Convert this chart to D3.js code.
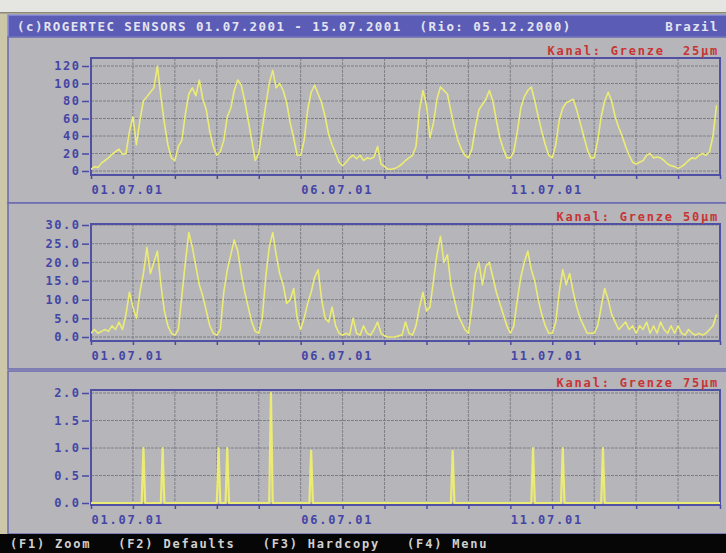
<!DOCTYPE html>
<html>
<head>
<meta charset="utf-8">
<script src="https://cdn.jsdelivr.net/npm/d3@7"></script>
<style>
    body { margin: 0; background: #cdc7aa; overflow: hidden; }
    svg { display: block; }
</style>
</head>
<body>
<div id="chart"></div>
<script>
// ---- data (2-hour samples from 01.07.2001 00:00) ----
const startDate = new Date(2001, 6, 1);
const endDate = new Date(2001, 6, 16);
const stepHours = 2;

const grenze25 = [
    2, 5, 4, 9, 12, 15, 19, 22, 25, 19, 20, 45,
    62, 30, 58, 80, 85, 90, 95, 120, 85, 55, 30, 15,
    12, 28, 35, 65, 88, 95, 86, 104, 82, 70, 45, 28,
    18, 22, 35, 62, 72, 92, 104, 98, 80, 58, 35, 12,
    20, 48, 75, 100, 115, 95, 100, 92, 78, 55, 38, 18,
    18, 35, 70, 90, 98, 88, 78, 62, 42, 30, 20, 10,
    6, 10, 15, 18, 14, 18, 12, 15, 14, 16, 28, 8,
    5, 2, 2, 3, 5, 8, 12, 15, 18, 28, 70, 92,
    75, 38, 55, 82, 96, 92, 88, 68, 50, 35, 25, 18,
    15, 25, 50, 70, 76, 82, 92, 80, 58, 38, 25, 15,
    15, 22, 45, 72, 85, 92, 96, 80, 62, 45, 30, 18,
    15, 30, 58, 72, 78, 80, 82, 70, 55, 40, 25, 15,
    15, 35, 62, 80, 90, 80, 62, 50, 40, 28, 18, 10,
    8, 10, 12, 18, 20, 15, 16, 15, 12, 8, 6, 5,
    3, 5, 8, 12, 15, 14, 18, 20, 18, 22, 40, 75
];

const grenze50 = [
    1, 2, 1, 1.5, 2, 1.5, 3, 2, 4, 2, 6, 12,
    8, 5, 12, 17, 24, 17, 20, 23, 14, 7, 3, 1,
    0.5, 2, 11, 20, 28, 24, 19, 14, 11, 7, 3, 1,
    0.5, 2, 12, 18, 22, 26, 23, 17, 12, 8, 4, 1.5,
    1, 5, 16, 24, 28, 22, 17, 14, 9, 10, 13, 5,
    2, 5, 9, 12, 16, 18, 10, 5, 4, 8, 3, 1,
    0.5, 1, 0.5, 5, 1, 0.5, 3, 1, 0.5, 2, 4, 1,
    0.3, 0, 0, 0, 0.3, 0.5, 4, 1, 0.5, 3, 8, 12,
    7, 8, 15, 22, 27, 20, 22, 14, 10, 6, 4, 2,
    1, 8, 17, 20, 14, 19, 20, 16, 12, 9, 6, 3,
    1, 3, 10, 16, 20, 23, 18, 15, 10, 6, 3, 1,
    1, 4, 12, 18, 14, 17, 12, 8, 5, 3, 1, 1,
    1, 3, 8, 13, 10, 6, 4, 2, 3, 4, 2, 3,
    1, 3, 2, 4, 1, 3, 1, 4, 2, 1, 3, 1,
    3, 1, 0.5, 2, 1, 0.5, 1, 0.5, 1, 2, 3, 6
];

// 75um channel is zero except for short single-hour spikes
const grenze75SpikeHours = [30, 41, 73, 78, 103, 126, 207, 253, 270, 293];
const grenze75SpikeValues = [1.0, 1.0, 1.0, 1.0, 2.0, 0.95, 0.95, 1.0, 1.0, 1.0];

const yTicks25 = [0, 20, 40, 60, 80, 100, 120];
const yTicks50 = [0, 5, 10, 15, 20, 25, 30];
const yTicks75 = [0, 0.5, 1.0, 1.5, 2.0];
const labelDays = [1, 6, 11];

const channelLabels = ["Kanal: Grenze  25µm", "Kanal: Grenze 50µm", "Kanal: Grenze 75µm"];
const titleLeft = "(c)ROGERTEC SENSORS 01.07.2001 - 15.07.2001  (Rio: 05.12.2000)";
const titleRight = "Brazil";
const footerText = "(F1) Zoom   (F2) Defaults   (F3) Hardcopy   (F4) Menu";

// ---- layout ----
const width = 726, height = 553;
const plotLeft = 91, plotRight = 720;
const monoFont = "'DejaVu Sans Mono', 'Liberation Mono', monospace";

const series25 = grenze25.map((v, i) => ({ t: d3.timeHour.offset(startDate, i * stepHours), v }));
const series50 = grenze50.map((v, i) => ({ t: d3.timeHour.offset(startDate, i * stepHours), v }));
const series75 = [{ t: startDate, v: 0 }];
grenze75SpikeHours.forEach((h, i) => {
    series75.push({ t: d3.timeHour.offset(startDate, h - 1), v: 0 });
    series75.push({ t: d3.timeHour.offset(startDate, h), v: grenze75SpikeValues[i] });
    series75.push({ t: d3.timeHour.offset(startDate, h + 1), v: 0 });
});
series75.push({ t: endDate, v: 0 });

const panels = [
    { box: [37, 203], plot: [58, 175], zeroY: 171, maxY: 66, max: 120, ticks: yTicks25, fmt: d3.format("d"), label: channelLabels[0], data: series25, lw: 1.6 },
    { box: [203, 369], plot: [224, 341], zeroY: 337, maxY: 225, max: 30, ticks: yTicks50, fmt: d3.format(".1f"), label: channelLabels[1], data: series50, lw: 1.6 },
    { box: [371, 534], plot: [390, 505], zeroY: 503, maxY: 393, max: 2, ticks: yTicks75, fmt: d3.format(".1f"), label: channelLabels[2], data: series75, lw: 2.2 }
];

const svg = d3.select("#chart").append("svg")
    .attr("width", width)
    .attr("height", height);

// top strip and background
svg.append("rect").attr("width", width).attr("height", height).attr("fill", "#cdc7aa");
svg.append("rect").attr("width", width).attr("height", 12).attr("fill", "#e5e6e2");
svg.append("rect").attr("y", 12).attr("width", width).attr("height", 1.5).attr("fill", "#8a8878");

// title bar
svg.append("rect")
    .attr("x", 8).attr("y", 15).attr("width", 730).attr("height", 22)
    .attr("fill", "#5a5cb6").attr("stroke", "#8a8ed8").attr("stroke-width", 1.5);
svg.append("text")
    .attr("x", 17).attr("y", 31)
    .attr("font-family", monoFont).attr("font-weight", "bold").attr("font-size", "12.5px")
    .attr("letter-spacing", "1.42px").attr("fill", "#e4e4f0")
    .style("white-space", "pre")
    .text(titleLeft);
svg.append("text")
    .attr("x", 719).attr("y", 31).attr("text-anchor", "end")
    .attr("font-family", monoFont).attr("font-weight", "bold").attr("font-size", "12.5px")
    .attr("letter-spacing", "1.42px").attr("fill", "#e4e4f0")
    .text(titleRight);

const x = d3.scaleTime().domain([startDate, endDate]).range([plotLeft, plotRight]);

panels.forEach((p, idx) => {
    const g = svg.append("g");
    const y = d3.scaleLinear().domain([0, p.max]).range([p.zeroY, p.maxY]);

    // panel box
    g.append("rect")
        .attr("x", 8).attr("y", p.box[0]).attr("width", 730).attr("height", p.box[1] - p.box[0])
        .attr("fill", "#b5b5ba").attr("stroke", "#6a6ab4").attr("stroke-width", 1.5);

    // grid
    g.selectAll(".hgrid")
        .data(p.ticks)
        .enter().append("line")
        .attr("x1", plotLeft).attr("x2", plotRight)
        .attr("y1", d => y(d)).attr("y2", d => y(d))
        .attr("stroke", "#7e7e88").attr("stroke-width", 1).attr("stroke-dasharray", "3,1");

    g.selectAll(".vgrid")
        .data(d3.timeDay.range(d3.timeDay.offset(startDate, 1), endDate))
        .enter().append("line")
        .attr("x1", d => x(d)).attr("x2", d => x(d))
        .attr("y1", p.plot[0]).attr("y2", p.plot[1])
        .attr("stroke", "#7e7e88").attr("stroke-width", 1).attr("stroke-dasharray", "3,1");

    // plot frame
    g.append("rect")
        .attr("x", plotLeft).attr("y", p.plot[0])
        .attr("width", plotRight - plotLeft).attr("height", p.plot[1] - p.plot[0])
        .attr("fill", "none").attr("stroke", "#5050a4").attr("stroke-width", 2);

    // y axis
    const yAxis = g.append("g")
        .attr("transform", `translate(${plotLeft - 2},0)`)
        .call(d3.axisLeft(y).tickValues(p.ticks).tickSize(7).tickPadding(3).tickFormat(p.fmt));
    yAxis.select(".domain").remove();
    yAxis.selectAll("line").attr("stroke", "#4a4aa4").attr("stroke-width", 1.5);
    yAxis.selectAll("text")
        .attr("fill", "#4545a6").attr("font-family", monoFont)
        .attr("font-weight", "bold").attr("font-size", "12px").attr("letter-spacing", "1.5px")
        .attr("dx", "1.5px");

    // x axis
    const xAxis = g.append("g")
        .attr("transform", `translate(0,${p.plot[1]})`)
        .call(d3.axisBottom(x)
            .ticks(d3.timeDay.every(1))
            .tickSize(4)
            .tickFormat(d => labelDays.includes(d.getDate()) && d < endDate ? d3.timeFormat("%d.%m.%y")(d) : ""));
    xAxis.select(".domain").remove();
    xAxis.selectAll("line").attr("stroke", "#4a4aa4").attr("stroke-width", 1.5);
    xAxis.selectAll("text")
        .attr("text-anchor", "start")
        .attr("y", 19).attr("dy", 0)
        .attr("fill", "#4545a6").attr("font-family", monoFont)
        .attr("font-weight", "bold").attr("font-size", "12px").attr("letter-spacing", "1.8px");

    // channel label
    g.append("text")
        .attr("x", 719).attr("y", p.plot[0] - 3).attr("text-anchor", "end")
        .attr("font-family", monoFont).attr("font-weight", "bold").attr("font-size", "12px")
        .attr("letter-spacing", "1.8px").attr("fill", "#c83434")
        .style("white-space", "pre")
        .text(p.label);

    // data line
    g.append("clipPath").attr("id", "clip" + idx)
        .append("rect")
        .attr("x", plotLeft).attr("y", p.plot[0])
        .attr("width", plotRight - plotLeft).attr("height", p.plot[1] - p.plot[0]);

    g.append("path")
        .datum(p.data)
        .attr("clip-path", `url(#clip${idx})`)
        .attr("fill", "none")
        .attr("stroke", "#ecec74")
        .attr("stroke-width", p.lw)
        .attr("stroke-linejoin", "round")
        .attr("d", d3.line().x(d => x(d.t)).y(d => y(d.v)));
});

// footer
svg.append("rect").attr("x", 0).attr("y", 534).attr("width", width).attr("height", height - 534).attr("fill", "#060606");
svg.append("text")
    .attr("x", 10).attr("y", 548)
    .attr("font-family", monoFont).attr("font-weight", "bold").attr("font-size", "12px")
    .attr("letter-spacing", "1.8px").attr("fill", "#d0d0d0")
    .style("white-space", "pre")
    .text(footerText);
</script>
</body>
</html>
